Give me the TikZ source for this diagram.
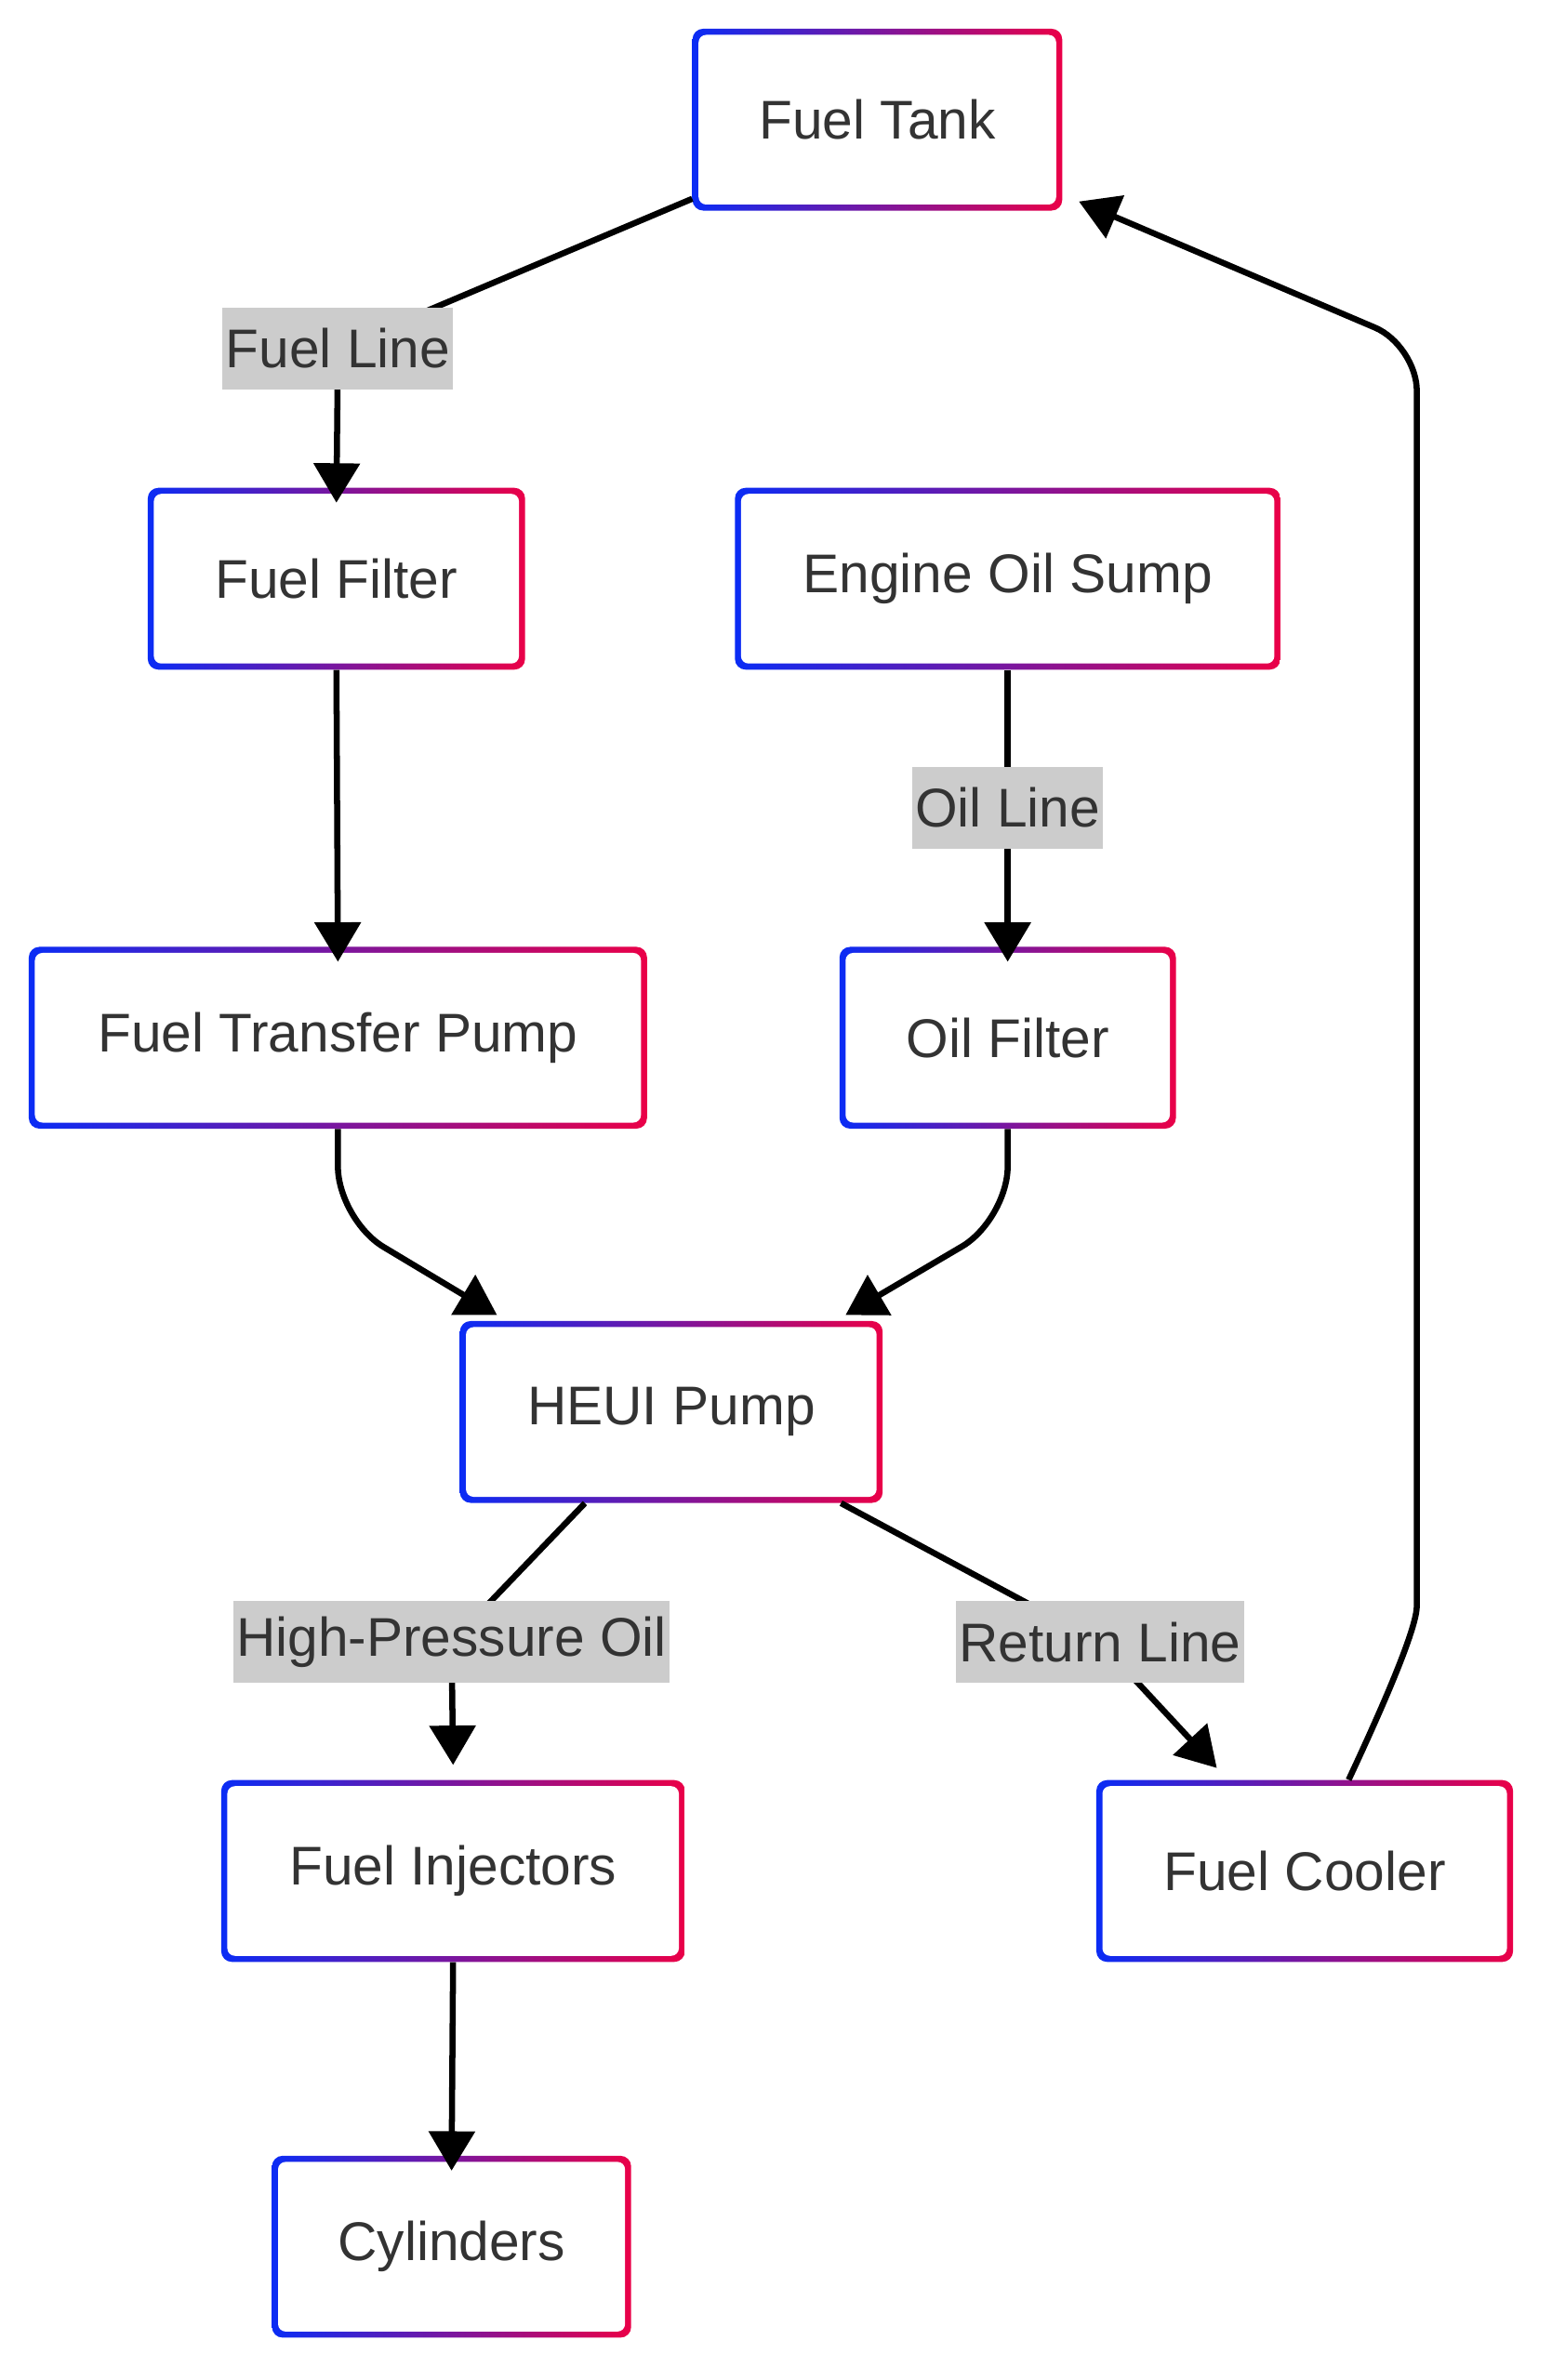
\documentclass[tikz,border=0pt]{standalone}
\usepackage{fontspec}
\setmainfont{Liberation Sans}
\usetikzlibrary{arrows.meta}
\definecolor{cb}{HTML}{0A2CF5}
\definecolor{cr}{HTML}{EA0048}
\definecolor{tx}{HTML}{333333}
\definecolor{lb}{HTML}{CCCCCC}
\tikzset{
  lbl/.style={fill=lb,text=tx,font=\fontsize{36}{40}\selectfont,inner sep=2pt,minimum height=54},
  edge/.style={line width=4,draw=black,-{Triangle[length=26,width=30]}},
  plain/.style={line width=4,draw=black}
}
\newcommand{\bx}[6]{%
  \shade[left color=cb,right color=cr,rounded corners=7] ({#2-#4/2},{#3-#5/2}) rectangle ({#2+#4/2},{#3+#5/2});
  \fill[white,rounded corners=5] ({#2-#4/2+4},{#3-#5/2+4}) rectangle ({#2+#4/2-4},{#3+#5/2-4});
  \node[minimum width=#4,minimum height=#5,inner sep=0,text=tx,font=\fontsize{36}{40}\selectfont] (#1) at (#2,#3) {#6};}
\begin{document}
\begin{tikzpicture}[x=1pt,y=-1pt]
\useasboundingbox[fill=white] (0,0) rectangle (1024,1571);
\bx{tank}{579}{79}{244}{120}{Fuel Tank}
\bx{ff}{222}{382}{249}{120}{Fuel Filter}
\bx{sump}{665}{382}{360}{120}{Engine Oil Sump}
\bx{ftp}{223}{685}{408}{120}{Fuel Transfer Pump}
\bx{of}{665}{685}{222}{120}{Oil Filter}
\bx{heui}{443}{932}{279}{120}{HEUI Pump}
\bx{inj}{299}{1235}{306}{120}{Fuel Injectors}
\bx{cool}{861}{1235}{275}{120}{Fuel Cooler}
\bx{cyl}{298}{1483}{237}{120}{Cylinders}
\coordinate (l1) at (223,230);
\coordinate (l2) at (665,533);
\coordinate (l3) at (298,1084);
\coordinate (l4) at (726,1084);
\draw[edge] (tank.south west)++(0,-8) -- (l1) -- ([yshift=-10]ff.north);
\draw[edge] (ff.south) -- ([yshift=-10]ftp.north);
\draw[edge] (sump.south) -- (l2) -- ([yshift=-10]of.north);
\draw[edge,rounded corners=35] (ftp.south) -- (223,805) -- (328,868);
\draw[edge,rounded corners=35] (of.south) -- (665,805) -- (558,868);
\draw[edge] ([xshift=-57]heui.south) -- (l3) -- (299,1165);
\draw[edge] ([xshift=112]heui.south) -- (l4) -- (803,1167);
\draw[edge] (inj.south) -- ([yshift=-10]cyl.north);
\draw[edge,rounded corners=30] ([xshift=29]cool.north) .. controls (925,1100) and (935,1070) .. (935,1030) -- (935,228) -- (712,133);
\node[lbl] at (l1) {Fuel Line};
\node[lbl] at (l2) {Oil Line};
\node[lbl] at (l3) {High-Pressure Oil};
\node[lbl] at (l4) {Return Line};
\end{tikzpicture}
\end{document}
